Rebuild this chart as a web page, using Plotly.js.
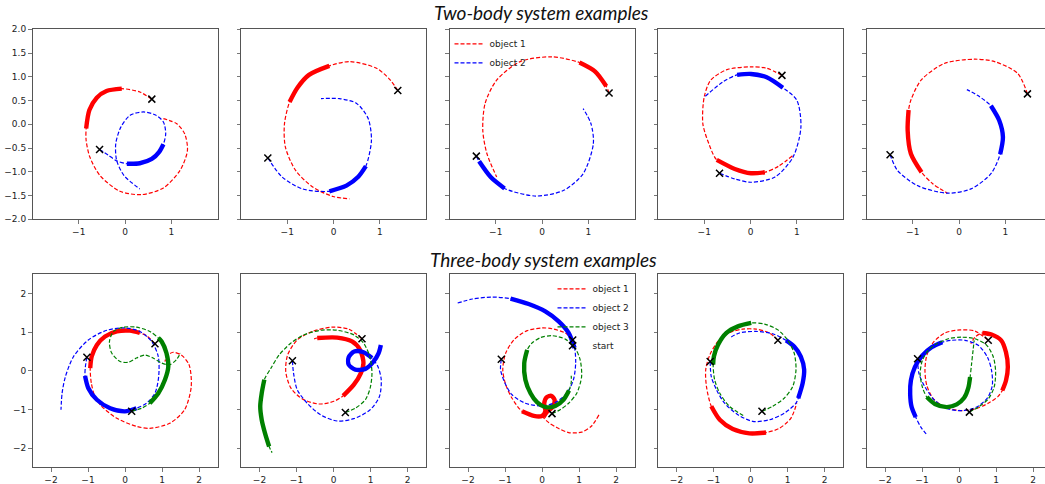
<!DOCTYPE html>
<html><head><meta charset="utf-8">
<script src="https://cdn.plot.ly/plotly-3.0.1.min.js"></script>
<style>html,body{margin:0;padding:0;overflow:hidden;background:#fff}</style>
</head><body><div id="chart"></div>
<script>
// ---------- Two-body examples ----------
const two1_obj1_x = [0.58,0.32,-0.07,-0.40,-0.61,-0.77,-0.84,-0.84,-0.76,-0.54,-0.11,0.36,0.83,1.19,1.35,1.29,1.12,0.83];
const two1_obj1_y = [0.53,0.68,0.75,0.70,0.56,0.30,-0.09,-0.34,-0.69,-1.08,-1.41,-1.48,-1.34,-0.97,-0.55,-0.20,0.01,0.12];
const two1_obj1_bold = [2,6];
const two1_obj2_x = [-0.55,-0.36,-0.18,0.04,0.32,0.58,0.74,0.83,0.88,0.83,0.65,0.40,0.11,-0.09,-0.20,-0.18,-0.02,0.32];
const two1_obj2_y = [-0.53,-0.65,-0.77,-0.83,-0.82,-0.73,-0.58,-0.42,-0.20,0.05,0.20,0.26,0.19,-0.06,-0.41,-0.76,-1.08,-1.36];
const two1_obj2_bold = [3,7];

const two2_obj1_x = [1.39,1.23,0.93,0.35,-0.09,-0.53,-0.78,-0.95,-1.06,-1.04,-0.82,-0.45,-0.01,0.35];
const two2_obj1_y = [0.71,0.93,1.18,1.32,1.23,1.04,0.77,0.47,0.01,-0.48,-0.97,-1.32,-1.52,-1.57];
const two2_obj1_bold = [4,7];
const two2_obj2_x = [-1.42,-1.11,-0.67,-0.09,0.28,0.53,0.70,0.82,0.75,0.50,0.13,-0.27];
const two2_obj2_y = [-0.71,-1.11,-1.36,-1.41,-1.29,-1.11,-0.88,-0.34,0.12,0.44,0.54,0.54];
const two2_obj2_bold = [3,6];

const two3_obj1_x = [1.45,1.39,1.15,0.81,0.21,-0.47,-0.98,-1.23,-1.28,-1.19,-0.98];
const two3_obj1_y = [0.66,0.80,1.11,1.30,1.42,1.32,0.93,0.44,-0.13,-0.62,-1.11];
const two3_obj1_bold = [1,3];
const two3_obj2_x = [-1.42,-1.36,-1.11,-0.81,-0.13,0.47,0.89,1.11,1.06,0.89];
const two3_obj2_y = [-0.67,-0.78,-1.11,-1.35,-1.51,-1.39,-1.04,-0.41,0.01,0.33];
const two3_obj2_bold = [1,3];

const two4_obj1_x = [0.68,0.35,0.01,-0.51,-0.86,-1.00,-1.03,-0.90,-0.73,-0.34,0.01,0.31,0.61,0.92];
const two4_obj1_y = [1.03,1.18,1.21,1.15,0.93,0.58,0.01,-0.41,-0.75,-0.94,-1.03,-1.01,-0.88,-0.65];
const two4_obj1_bold = [8,11];
const two4_obj2_x = [-0.67,-0.34,0.01,0.53,0.92,1.09,1.00,0.70,0.35,0.01,-0.29,-0.60,-0.99];
const two4_obj2_y = [-1.03,-1.15,-1.22,-1.11,-0.69,-0.06,0.51,0.77,0.99,1.06,1.04,0.89,0.58];
const two4_obj2_bold = [7,10];

const two5_obj1_x = [1.48,1.27,0.77,0.33,-0.32,-0.82,-1.04,-1.09,-1.11,-1.04,-0.81,-0.57,-0.25];
const two5_obj1_y = [0.64,1.07,1.32,1.37,1.28,0.93,0.51,0.30,-0.13,-0.62,-1.01,-1.25,-1.45];
const two5_obj1_bold = [7,10];
const two5_obj2_x = [-1.49,-1.33,-0.90,-0.25,0.26,0.69,0.89,0.95,0.87,0.69,0.40,0.17];
const two5_obj2_y = [-0.64,-0.97,-1.29,-1.45,-1.36,-1.04,-0.63,-0.27,0.08,0.39,0.61,0.73];
const two5_obj2_bold = [6,9];

// ---------- Three-body examples ----------
const three1_obj1_x = [0.81,0.58,0.40,0.13,-0.22,-0.54,-0.76,-0.90,-0.94,-0.91,-0.81,-0.63,-0.22,0.31,0.67,1.21,1.61,1.79,1.73,1.52,1.30,1.14,1.08];
const three1_obj1_y = [0.70,0.91,0.98,1.04,1.02,0.89,0.67,0.37,0.07,-0.32,-0.67,-0.92,-1.23,-1.44,-1.49,-1.36,-1.01,-0.41,0.16,0.41,0.48,0.39,0.24];
const three1_obj1_bold = [2,8];
const three1_obj2_x = [-1.03,-1.07,-1.08,-0.99,-0.76,-0.40,0,0.31,0.58,0.81,0.91,0.90,0.72,0.40,0,-0.49,-0.99,-1.39,-1.61,-1.70,-1.73];
const three1_obj2_y = [0.35,0.11,-0.13,-0.45,-0.75,-0.97,-1.05,-0.97,-0.84,-0.58,-0.15,0.37,0.76,1.02,1.11,1.05,0.80,0.37,-0.15,-0.58,-1.01];
const three1_obj2_bold = [2,7];
const three1_obj3_x = [0.18,0.45,0.67,0.90,1.08,1.17,1.12,0.99,0.90,0.67,0.31,-0.04,-0.31,-0.42,-0.36,-0.13,0.09,0.31,0.54,0.76,0.99,1.21,1.39,1.50];
const three1_obj3_y = [-1.05,-0.97,-0.84,-0.58,-0.23,0.11,0.46,0.76,0.85,1.02,1.13,1.13,1.02,0.76,0.46,0.24,0.22,0.33,0.41,0.33,0.20,0.16,0.29,0.46];
const three1_obj3_bold = [2,8];

const three2_obj1_x = [0.77,0.41,-0.04,-0.57,-0.98,-1.24,-1.29,-1.15,-0.84,-0.39,0.01,0.26,0.55,0.74,0.81,0.72,0.50,0.10,-0.44,-0.55];
const three2_obj1_y = [0.83,1.08,1.13,1.02,0.80,0.41,-0.02,-0.45,-0.73,-0.86,-0.79,-0.65,-0.36,-0.06,0.20,0.54,0.76,0.86,0.85,0.82];
const three2_obj1_bold = [11,18];
const three2_obj2_x = [-1.11,-1.08,-0.98,-0.71,-0.35,0.10,0.55,0.99,1.24,1.29,1.20,1.04,0.81,0.56,0.41,0.41,0.59,0.86,1.08,1.22,1.28];
const three2_obj2_y = [0.26,-0.06,-0.49,-0.84,-1.14,-1.30,-1.24,-1.01,-0.67,-0.23,0.11,0.33,0.48,0.50,0.35,0.16,0.03,0.05,0.24,0.46,0.67];
const three2_obj2_bold = [11,20];
const three2_obj3_x = [0.32,0.59,0.86,0.99,1.04,0.98,0.81,0.55,0.10,-0.35,-0.80,-1.15,-1.47,-1.69,-1.87,-1.94,-1.98,-1.94,-1.85,-1.74,-1.66];
const three2_obj3_y = [-1.08,-0.97,-0.75,-0.45,-0.06,0.37,0.72,0.93,1.05,1.05,0.93,0.72,0.41,0.07,-0.23,-0.58,-0.92,-1.27,-1.62,-1.96,-2.12];
const three2_obj3_bold = [14,19];

const three3_obj1_x = [0.83,0.63,0.27,0,-0.40,-0.76,-0.98,-1.06,-0.98,-0.81,-0.54,-0.22,0,0.09,0.06,0.13,0.25,0.34,0.30,0.13,0.04,0.18,0.40,0.72,1.07,1.34,1.54];
const three3_obj1_y = [0.80,0.98,1.09,1.11,1.04,0.80,0.46,0.03,-0.36,-0.71,-1.05,-1.17,-1.17,-1.05,-0.84,-0.68,-0.65,-0.75,-0.92,-1.07,-1.20,-1.34,-1.47,-1.60,-1.59,-1.43,-1.14];
const three3_obj1_bold = [10,20];
const three3_obj2_x = [-1.10,-1.12,-1.00,-0.81,-0.45,0,0.36,0.67,0.85,0.91,0.88,0.72,0.45,0.09,-0.36,-0.85,-1.34,-1.88,-2.33];
const three3_obj2_y = [0.30,0.03,-0.32,-0.62,-0.84,-0.91,-0.82,-0.58,-0.23,0.20,0.59,0.98,1.28,1.54,1.73,1.87,1.91,1.86,1.74];
const three3_obj2_bold = [10,15];
const three3_obj3_x = [0.27,0.49,0.72,0.94,1.07,1.03,0.88,0.63,0.27,-0.04,-0.27,-0.40,-0.48,-0.45,-0.31,-0.13,0.09,0.36,0.58,0.73,0.79,0.79];
const three3_obj3_y = [-1.11,-1.01,-0.84,-0.58,-0.15,0.29,0.61,0.82,0.91,0.86,0.72,0.54,0.20,-0.23,-0.58,-0.82,-0.94,-0.91,-0.75,-0.51,-0.30,-0.13];
const three3_obj3_bold = [11,19];

const three4_obj1_x = [0.74,0.51,0.15,-0.21,-0.57,-0.88,-1.10,-1.21,-1.19,-1.06,-0.83,-0.48,-0.03,0.42,0.78,1.09,1.25];
const three4_obj1_y = [0.79,0.98,1.08,1.08,0.99,0.76,0.41,0.03,-0.41,-0.92,-1.27,-1.51,-1.62,-1.60,-1.49,-1.23,-0.84];
const three4_obj1_bold = [9,13];
const three4_obj2_x = [-1.09,-1.06,-0.92,-0.70,-0.34,0.06,0.51,0.91,1.23,1.29,1.41,1.45,1.36,1.18,0.96,0.60,0.15,-0.30,-0.57];
const three4_obj2_y = [0.24,-0.15,-0.49,-0.84,-1.14,-1.31,-1.27,-1.10,-0.84,-0.71,-0.32,0.03,0.37,0.63,0.79,0.96,1.02,0.98,0.85];
const three4_obj2_bold = [9,14];
const three4_obj3_x = [0.31,0.60,0.91,1.14,1.23,1.18,1.00,0.74,0.38,0.02,-0.34,-0.65,-0.88,-0.99,-1.01,-0.97,-0.83,-0.57,-0.16];
const three4_obj3_y = [-1.05,-0.92,-0.71,-0.41,0.03,0.46,0.80,1.06,1.21,1.24,1.15,0.98,0.67,0.37,0.16,-0.23,-0.58,-0.92,-1.18];
const three4_obj3_bold = [9,14];

const three5_obj1_x = [0.79,0.43,0.03,-0.38,-0.69,-0.87,-0.92,-0.87,-0.69,-0.38,0.03,0.43,0.79,1.05,1.17,1.27,1.32,1.27,1.14,0.88,0.63,0.43,0.32];
const three5_obj1_y = [0.79,1.03,1.06,0.98,0.74,0.40,0.01,-0.38,-0.73,-0.94,-1.03,-0.99,-0.84,-0.67,-0.51,-0.25,0.10,0.48,0.79,0.94,0.98,0.87,0.70];
const three5_obj1_bold = [14,20];
const three5_obj2_x = [-1.12,-1.08,-0.92,-0.65,-0.29,0.12,0.48,0.77,0.90,0.88,0.77,0.52,0.16,-0.20,-0.45,-0.74,-0.99,-1.19,-1.30,-1.32,-1.28,-1.17,-1.03,-0.85];
const three5_obj2_y = [0.31,-0.08,-0.42,-0.77,-0.99,-1.03,-0.94,-0.70,-0.38,0.01,0.35,0.66,0.79,0.79,0.74,0.61,0.40,0.10,-0.25,-0.60,-0.94,-1.20,-1.46,-1.68];
const three5_obj2_bold = [14,21];
const three5_obj3_x = [0.28,0.52,0.79,0.95,0.99,0.93,0.75,0.43,0.07,-0.29,-0.60,-0.83,-0.99,-1.05,-0.99,-0.87,-0.65,-0.33,-0.06,0.14,0.25,0.30,0.34,0.38,0.41];
const three5_obj3_y = [-1.07,-0.94,-0.73,-0.42,-0.03,0.35,0.66,0.83,0.87,0.83,0.70,0.53,0.27,-0.08,-0.42,-0.68,-0.86,-0.94,-0.87,-0.70,-0.45,-0.16,0.18,0.53,0.79];
const three5_obj3_bold = [15,21];

const objectNames = ['object 1','object 2','object 3'];
const startName = 'start';
const titleTop = 'Two-body system examples';
const titleBottom = 'Three-body system examples';
const topYTicks = [-2,-1.5,-1,-0.5,0,0.5,1,1.5,2];
const topXTicks = [-1,0,1];
const bottomTicks = [-2,-1,0,1,2];

// ---------- assemble ----------
const panels = [
  [[two1_obj1_x,two1_obj1_y,two1_obj1_bold],[two1_obj2_x,two1_obj2_y,two1_obj2_bold]],
  [[two2_obj1_x,two2_obj1_y,two2_obj1_bold],[two2_obj2_x,two2_obj2_y,two2_obj2_bold]],
  [[two3_obj1_x,two3_obj1_y,two3_obj1_bold],[two3_obj2_x,two3_obj2_y,two3_obj2_bold]],
  [[two4_obj1_x,two4_obj1_y,two4_obj1_bold],[two4_obj2_x,two4_obj2_y,two4_obj2_bold]],
  [[two5_obj1_x,two5_obj1_y,two5_obj1_bold],[two5_obj2_x,two5_obj2_y,two5_obj2_bold]],
  [[three1_obj1_x,three1_obj1_y,three1_obj1_bold],[three1_obj2_x,three1_obj2_y,three1_obj2_bold],[three1_obj3_x,three1_obj3_y,three1_obj3_bold]],
  [[three2_obj1_x,three2_obj1_y,three2_obj1_bold],[three2_obj2_x,three2_obj2_y,three2_obj2_bold],[three2_obj3_x,three2_obj3_y,three2_obj3_bold]],
  [[three3_obj1_x,three3_obj1_y,three3_obj1_bold],[three3_obj2_x,three3_obj2_y,three3_obj2_bold],[three3_obj3_x,three3_obj3_y,three3_obj3_bold]],
  [[three4_obj1_x,three4_obj1_y,three4_obj1_bold],[three4_obj2_x,three4_obj2_y,three4_obj2_bold],[three4_obj3_x,three4_obj3_y,three4_obj3_bold]],
  [[three5_obj1_x,three5_obj1_y,three5_obj1_bold],[three5_obj2_x,three5_obj2_y,three5_obj2_bold],[three5_obj3_x,three5_obj3_y,three5_obj3_bold]]
];

const W = 1055, H = 484;
const colors = ['#ff0000','#0000ff','#008000'];
const colLeft = 32.5, colStep = 208.5, panelW = 185;
const rowTop = [[29.3,219.3],[274.3,467.3]];
const FONT = 'DejaVu Sans, Arial, sans-serif';
const SMOOTH = 0.8;

const traces = [];
const layout = {
  width: W, height: H,
  margin: {l:0, r:0, t:0, b:0},
  paper_bgcolor: '#fff', plot_bgcolor: '#fff',
  font: {family: FONT, size: 9, color: '#222'},
  showlegend: true,
  legend: {x: (colLeft+2*colStep)/W, y: 1-rowTop[0][0]/H, xanchor:'left', yanchor:'top',
           bgcolor:'rgba(0,0,0,0)', borderwidth:0, itemwidth:30, tracegroupgap:0,
           font:{family:FONT,size:9,color:'#222'}},
  legend2: {x: (colLeft+2*colStep+panelW)/W, y: 1-rowTop[1][0]/H, xanchor:'right', yanchor:'top',
           bgcolor:'rgba(0,0,0,0)', borderwidth:0, itemwidth:30, tracegroupgap:0,
           font:{family:FONT,size:9,color:'#222'}},
  annotations: [
    {text: titleTop, x: 541/W, y: 1-13/H, xref:'paper', yref:'paper', showarrow:false,
     xanchor:'center', yanchor:'middle', font:{family:'Lato, Open Sans, sans-serif', size:19, style:'italic', color:'#111'}},
    {text: titleBottom, x: 543/W, y: 1-259/H, xref:'paper', yref:'paper', showarrow:false,
     xanchor:'center', yanchor:'middle', font:{family:'Lato, Open Sans, sans-serif', size:19, style:'italic', color:'#111'}}
  ]
};

panels.forEach((objs, p) => {
  const row = p < 5 ? 0 : 1;
  const col = p % 5;
  const id = p === 0 ? '' : String(p+1);
  const xa = 'x' + id, ya = 'y' + id;
  const left = colLeft + col*colStep;
  const axBase = {
    showgrid:false, zeroline:false, showline:true, mirror:true,
    linecolor:'#555', linewidth:1, ticks:'outside', ticklen:3.5, tickwidth:0.8, tickcolor:'#555',
    tickfont:{family:FONT,size:9,color:'#222'}, fixedrange:true
  };
  layout['xaxis'+id] = Object.assign({}, axBase, {
    domain:[left/W, (left+panelW)/W], anchor: ya,
    range: row===0 ? [-2,2] : [-2.5,2.5],
    tickmode:'array', tickvals: row===0 ? topXTicks : bottomTicks
  });
  layout['yaxis'+id] = Object.assign({}, axBase, {
    domain:[1-rowTop[row][1]/H, 1-rowTop[row][0]/H], anchor: xa,
    range: row===0 ? [-2,2] : [-2.5,2.5],
    tickmode:'array', tickvals: row===0 ? topYTicks : bottomTicks,
    tickformat: row===0 ? '.1f' : 'd',
    showticklabels: col===0
  });
  const isLegendPanel = (col === 2);
  const legName = row===0 ? 'legend' : 'legend2';
  objs.forEach((o, k) => {
    const [xs, ys, bold] = o;
    traces.push({
      type:'scatter', mode:'lines', x:xs, y:ys, xaxis:xa, yaxis:ya,
      line:{color:colors[k], width:1.2, dash:'4px,2px', shape:'spline', smoothing:SMOOTH},
      name: objectNames[k], showlegend: isLegendPanel, legend: legName, hoverinfo:'skip'
    });
    traces.push({
      type:'scatter', mode:'lines', x:xs.slice(bold[0], bold[1]+1), y:ys.slice(bold[0], bold[1]+1),
      xaxis:xa, yaxis:ya,
      line:{color:colors[k], width:4.4, shape:'spline', smoothing:SMOOTH},
      showlegend:false, hoverinfo:'skip'
    });
  });
  traces.push({
    type:'scatter', mode:'markers', x: objs.map(o => o[0][0]), y: objs.map(o => o[1][0]),
    xaxis:xa, yaxis:ya,
    marker:{symbol:'x-thin', size:7, color:'#000', line:{width:1.5, color:'#000'}},
    name: startName, showlegend: (isLegendPanel && row===1), legend:'legend2', hoverinfo:'skip'
  });
});

Plotly.newPlot('chart', traces, layout, {staticPlot:true, displayModeBar:false});
</script>
</body></html>
